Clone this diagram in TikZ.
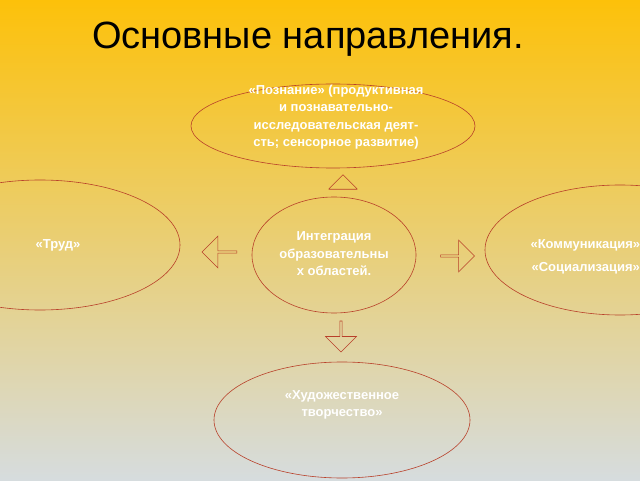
\documentclass[tikz,border=0pt]{standalone}
\usepackage{fontspec}
\setmainfont{Liberation Sans}
\usetikzlibrary{shapes.arrows}
\definecolor{ln}{HTML}{B8402A}
\tikzset{
 ell/.style={draw=ln,ellipse,line width=0.6pt},
 txt/.style={text=white,font=\bfseries\fontsize{13}{17.5}\selectfont,align=center},
 barr/.style={single arrow,draw=ln,line width=0.6pt,minimum height=#1,inner sep=0pt,single arrow head extend=4pt},
 x=1pt,y=1pt
}
\begin{document}
\begin{tikzpicture}
\useasboundingbox (0,0) rectangle (640,480);
\clip (0,0) rectangle (640,480);
\shade[top color={rgb,255:red,253;green,193;blue,10},middle color={rgb,255:red,238;green,210;blue,120},bottom color={rgb,255:red,214;green,220;blue,222}] (0,0) rectangle (640,480);
\node[font=\fontsize{38}{40}\selectfont] (title) at (308,441) {Основные направления.};
\draw[ln,line width=0.6pt] (333,354) ellipse (142 and 42);
\coordinate (top) at (333,354);
\draw[ln,line width=0.6pt] (334,225) ellipse (82 and 58);
\coordinate (mid) at (334,225);
\draw[ln,line width=0.6pt] (40,235) ellipse (140 and 65);
\coordinate (lft) at (40,235);
\draw[ln,line width=0.6pt] (620,230) ellipse (135 and 65);
\coordinate (rgt) at (620,230);
\draw[ln,line width=0.6pt] (342,60) ellipse (128 and 58);
\coordinate (bot) at (342,60);
\node[txt] (ttop) at (336,363) {«Познание» (продуктивная\\и познавательно-\\исследовательская деят-\\сть; сенсорное развитие)};
\node[txt] (tmid) at (334,226) {Интеграция\\образовательны\\х областей.};
\node[txt] (tlft) at (58,235) {«Труд»};
\node[txt,anchor=west] (trgt1) at (527,235) {«Коммуникация»};
\node[txt,anchor=west] (trgt2) at (528,212) {«Социализация»};
\node[txt] (tbot) at (342,75) {«Художественное\\творчество»};
\node[barr=14pt,minimum width=28pt,single arrow head extend=0pt,rotate=90] (au) at (343,291) {};
\node[barr=35pt,minimum width=32pt,shape border rotate=180] (al) at (220,228) {};
\node[barr=34pt,minimum width=32pt] (ar) at (457,224) {};
\node[barr=31pt,minimum width=31pt,rotate=-90] (ad) at (341,144) {};
\end{tikzpicture}
\end{document}
